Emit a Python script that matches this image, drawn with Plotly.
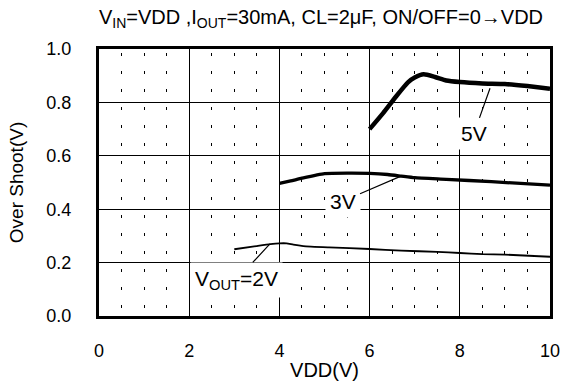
import plotly.graph_objects as go

# VDD (V) vs over shoot (V), one curve per output voltage
vdd_5v = [6.0, 6.3, 6.6, 6.85, 7.0, 7.2, 7.45, 7.7, 8.0, 8.5, 9.0, 9.5, 10.0]
os_5v = [0.70, 0.76, 0.825, 0.875, 0.893, 0.905, 0.895, 0.882, 0.876, 0.871, 0.869, 0.861, 0.851]

vdd_3v = [4.0, 4.25, 4.5, 5.0, 5.5, 6.0, 6.4, 6.7, 7.0, 7.7, 8.7, 10.0]
os_3v = [0.497, 0.506, 0.516, 0.533, 0.535, 0.534, 0.53, 0.524, 0.518, 0.512, 0.503, 0.49]

vdd_2v = [3.0, 3.5, 3.8, 4.0, 4.16, 4.31, 4.53, 5.1, 6.0, 6.7, 7.5, 8.0, 8.5, 9.0, 10.0]
os_2v = [0.25, 0.262, 0.269, 0.272, 0.272, 0.267, 0.262, 0.257, 0.251, 0.245, 0.24, 0.236, 0.232, 0.23, 0.222]

x_ticks = [0, 2, 4, 6, 8, 10]
y_ticks = [0.0, 0.2, 0.4, 0.6, 0.8, 1.0]

FONT = "Liberation Sans, Arial, sans-serif"

fig = go.Figure()
for xs, ys, w in [(vdd_5v, os_5v, 4.5), (vdd_3v, os_3v, 3.3), (vdd_2v, os_2v, 1.8)]:
    fig.add_trace(
        go.Scatter(
            x=xs,
            y=ys,
            mode="lines",
            line=dict(color="black", width=w, shape="spline", smoothing=0.5),
            showlegend=False,
        )
    )

# curve labels with leader lines: (text, point on curve, text centre)
labels = [
    ("5V", (8.67, 0.853), (8.31, 0.682)),
    ("3V", (6.67, 0.522), (5.4, 0.43)),
    ("V<sub>OUT</sub>=2V", (3.79, 0.27), (3.05, 0.135)),
]
for text, (px_, py_), (tx, ty) in labels:
    fig.add_annotation(
        x=px_,
        y=py_,
        ax=tx,
        ay=ty,
        axref="x",
        ayref="y",
        text=text,
        showarrow=True,
        arrowhead=0,
        arrowwidth=1.2,
        arrowcolor="black",
        bgcolor="white",
        borderpad=4,
        font=dict(family=FONT, size=21, color="black"),
    )

grid_minor = dict(
    dtick=0.5, showgrid=True, gridcolor="black", gridwidth=1, griddash="0px,4px,3px,11px"
)

fig.update_layout(
    width=563,
    height=385,
    margin=dict(l=99, r=13, t=49, b=69),
    paper_bgcolor="white",
    plot_bgcolor="white",
    font=dict(family=FONT, size=18, color="black"),
    title=dict(
        text="V<sub>IN</sub>=VDD ,I<sub>OUT</sub>=30mA, CL=2μF, ON/OFF=0→VDD",
        x=321 / 563,
        xanchor="center",
        y=1 - 17 / 385,
        yanchor="middle",
        font=dict(family=FONT, size=20, color="black"),
    ),
    xaxis=dict(
        range=[0, 10],
        tickvals=x_ticks,
        ticktext=[str(v) for v in x_ticks],
        showgrid=True,
        gridcolor="black",
        gridwidth=1,
        minor=grid_minor,
        showline=True,
        linecolor="black",
        linewidth=3,
        mirror=True,
        ticks="",
        ticklabelstandoff=16,
        tickfont=dict(size=18),
        title=dict(text="VDD(V)", font=dict(size=20), standoff=4),
        zeroline=False,
        automargin=False,
    ),
    yaxis=dict(
        range=[0, 1.0],
        tickvals=y_ticks,
        ticktext=[f"{v:.1f}" for v in y_ticks],
        showgrid=True,
        gridcolor="black",
        gridwidth=1,
        showline=True,
        linecolor="black",
        linewidth=3,
        mirror=True,
        ticks="",
        ticklabelstandoff=21,
        tickfont=dict(size=18),
        title=dict(text="Over Shoot(V)", font=dict(size=19), standoff=18),
        zeroline=False,
        automargin=False,
    ),
)

# drop the page's default body margin so the figure sits at the window corner
fig.write_html(
    "out.html",
    config={"displayModeBar": False},
    post_script="document.body.style.margin = '0';",
)
